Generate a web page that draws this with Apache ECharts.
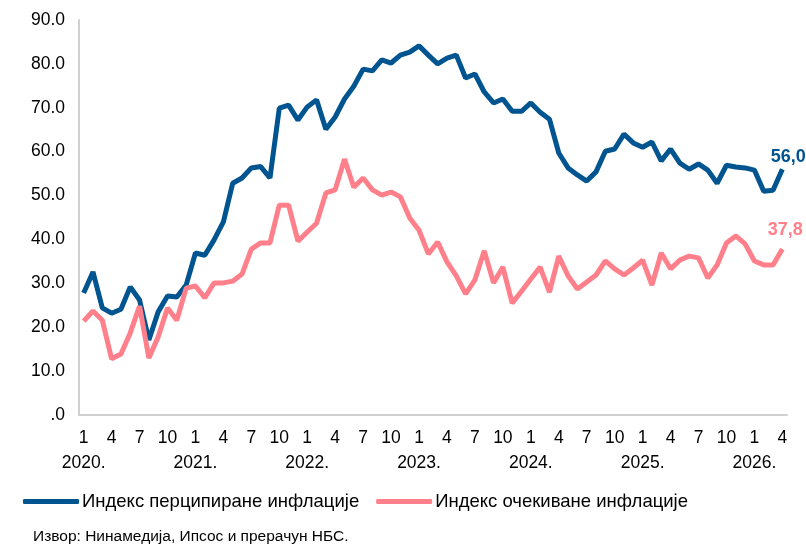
<!DOCTYPE html>
<html>
<head>
<meta charset="utf-8">
<script src="https://cdn.jsdelivr.net/npm/echarts@6/dist/echarts.min.js"></script>
<style>
  html, body { margin: 0; padding: 0; background: #fff; }
  #chart { width: 806px; height: 546px; }
</style>
</head>
<body>
<div id="chart"></div>
<script>
// months Jan 2020 - Apr 2026
var years = [2020, 2021, 2022, 2023, 2024, 2025, 2026];
var months = [];
years.forEach(function (y) {
  for (var m = 1; m <= 12; m++) {
    if (y === 2026 && m > 4) break;
    months.push(y + '-' + m);
  }
});

var perceived = [
  27.8, 32.6, 24.4, 23.2, 24.1, 29.2, 26.2, 17.1, 23.5, 27.1, 26.9, 29.6,
  36.9, 36.4, 39.9, 44.0, 52.8, 54.0, 56.3, 56.6, 54.0, 69.9, 70.6, 67.2,
  70.2, 71.8, 65.1, 67.9, 72.0, 74.9, 78.8, 78.4, 80.9, 80.2, 82.0, 82.7,
  84.1, 82.0, 80.0, 81.3, 82.0, 76.8, 77.7, 73.6, 71.1, 72.0, 69.2, 69.2,
  71.1, 69.0, 67.4, 59.7, 56.3, 54.7, 53.3, 55.4, 60.1, 60.6, 64.0, 62.0,
  61.0, 62.2, 57.9, 60.6, 57.4, 56.0, 57.2, 55.8, 52.8, 56.9, 56.5, 56.3,
  55.8, 51.0, 51.2, 56.0
];

var expected = [
  21.4, 23.7, 21.6, 12.8, 13.9, 18.7, 24.8, 13.0, 17.8, 24.4, 21.6, 28.9,
  29.4, 26.7, 30.1, 30.1, 30.5, 32.1, 37.8, 39.2, 39.2, 47.8, 47.8, 39.6,
  41.7, 43.7, 50.6, 51.3, 58.3, 51.9, 54.0, 51.3, 50.1, 50.8, 49.7, 44.9,
  42.1, 36.7, 39.4, 34.9, 31.7, 27.6, 30.8, 37.4, 30.1, 33.7, 25.5, 28.2,
  31.0, 33.7, 28.0, 36.2, 31.7, 28.7, 30.3, 31.9, 35.1, 33.3, 31.9, 33.5,
  35.3, 29.6, 36.9, 33.3, 35.3, 36.2, 35.8, 31.2, 34.2, 39.2, 40.8, 39.0,
  35.1, 34.2, 34.2, 37.8
];

var FONT = 'Liberation Sans';
var BLUE = '#00548f';
var PINK = '#ff808b';

// only the last point gets a value label
function withEndLabel(arr, color, offset) {
  return arr.map(function (v, i) {
    if (i !== arr.length - 1) return v;
    return {
      value: v,
      label: {
        show: true,
        position: 'top',
        offset: offset,
        color: color,
        fontWeight: 'bold',
        fontSize: 18,
        fontFamily: FONT,
        formatter: function (p) { return p.value.toFixed(1).replace('.', ','); }
      }
    };
  });
}

var chart = echarts.init(document.getElementById('chart'));
var option = {
  animation: false,
  textStyle: { fontFamily: FONT },
  grid: { left: 79, right: 19, top: 20, bottom: 131 },
  legend: {
    left: 18,
    top: 487,
    icon: 'roundRect',
    itemWidth: 56,
    itemHeight: 5,
    itemGap: 17,
    textStyle: { fontSize: 18.5, color: '#000', fontFamily: FONT, padding: [0, 0, 0, -2] },
    data: ['Индекс перципиране инфлације', 'Индекс очекиване инфлације']
  },
  graphic: [{
    type: 'text',
    left: 33,
    top: 529,
    style: { text: 'Извор: Нинамедија, Ипсос и прерачун НБС.', fontSize: 15.5, fontFamily: FONT, fill: '#000' }
  }],
  xAxis: {
    type: 'category',
    data: months,
    boundaryGap: true,
    axisLine: { lineStyle: { color: '#d0d0d0', width: 2 } },
    axisTick: { show: false },
    axisLabel: {
      interval: function (i) { return i % 3 === 0; },
      color: '#000',
      fontSize: 17.5,
      lineHeight: 25,
      margin: 11,
      formatter: function (v) {
        var p = v.split('-');
        return p[1] === '1' ? p[1] + '\n' + p[0] + '.' : p[1];
      }
    }
  },
  yAxis: {
    type: 'value',
    min: 0,
    max: 90,
    interval: 10,
    splitLine: { show: false },
    axisLine: { show: true, lineStyle: { color: '#d0d0d0', width: 2 } },
    axisTick: { show: false },
    axisLabel: {
      color: '#000',
      fontSize: 17.5,
      margin: 14,
      formatter: function (v) { return v === 0 ? '.0' : v.toFixed(1); }
    }
  },
  series: [
    {
      name: 'Индекс перципиране инфлације',
      type: 'line',
      data: withEndLabel(perceived, BLUE, [6, 2]),
      symbol: 'circle',
      symbolSize: 0,
      showSymbol: true,
      color: BLUE,
      lineStyle: { width: 5, color: BLUE }
    },
    {
      name: 'Индекс очекиване инфлације',
      type: 'line',
      data: withEndLabel(expected, PINK, [3, -5]),
      symbol: 'circle',
      symbolSize: 0,
      showSymbol: true,
      color: PINK,
      lineStyle: { width: 5, color: PINK }
    }
  ]
};
option && chart.setOption(option);
</script>
</body>
</html>
